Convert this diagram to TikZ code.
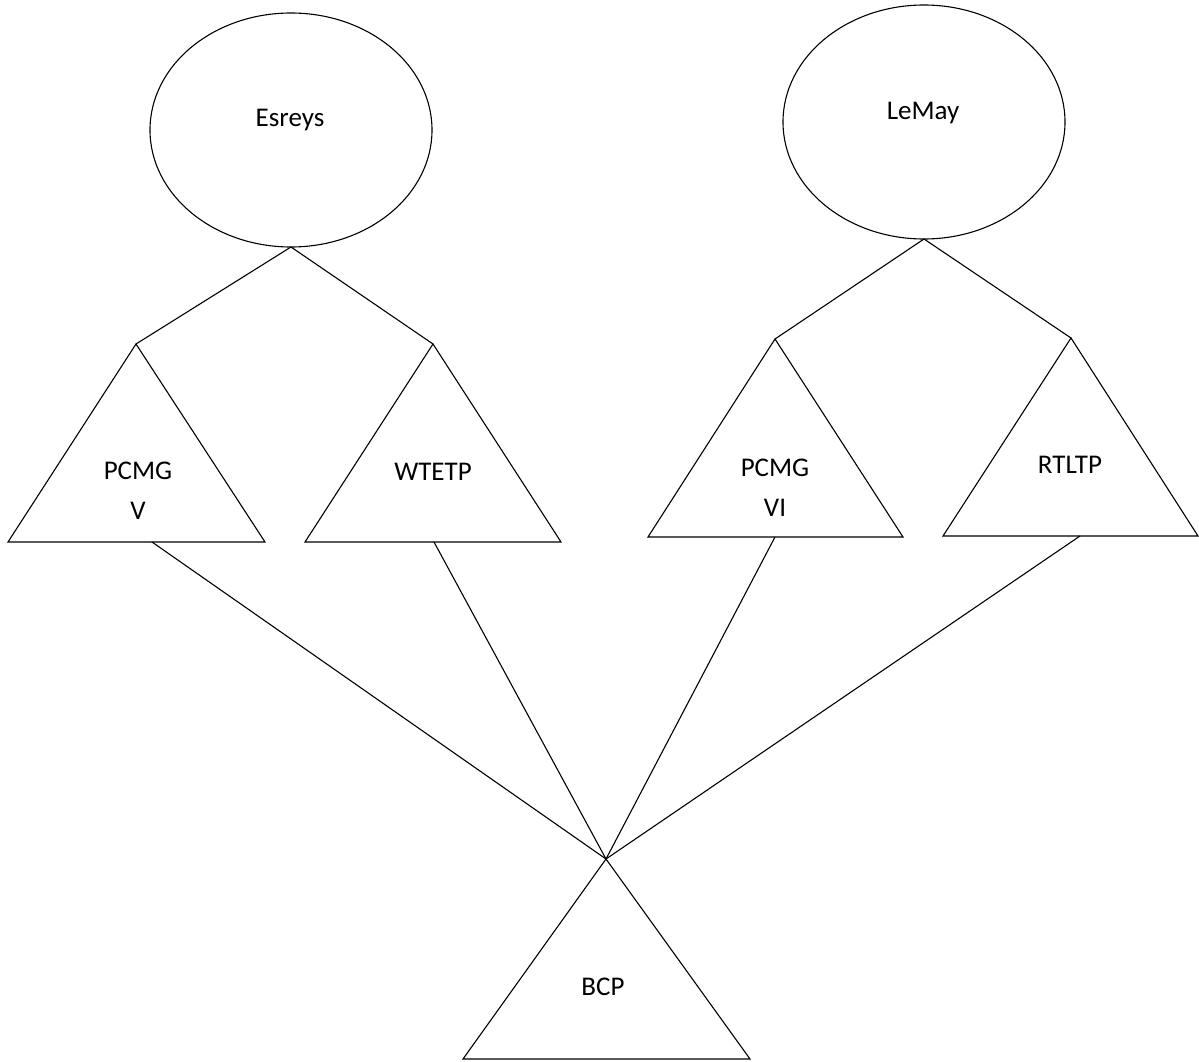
\documentclass[tikz,border=0pt]{standalone}
\usepackage{fontspec}
\setmainfont{Carlito}
\usetikzlibrary{shapes.geometric, calc}

\begin{document}
\begin{tikzpicture}[x=1pt,y=-1pt,line width=1.1pt,
    group/.style={draw,ellipse,minimum width=282pt,minimum height=234pt,
      inner sep=0pt,outer sep=0pt},
    lbl/.style={font=\fontsize{27}{40}\selectfont,align=center,inner sep=0pt}]
    \useasboundingbox (0,0) rectangle (1199,1062);

    % the two groups
    \node[group] (esreys) at (291,130) {};
    \node[lbl]   (esreys-t) at (290,120) {Esreys};
    \node[group] (lemay) at (924,122) {};
    \node[lbl]   (lemay-t) at (923,113) {LeMay};

    % apexes of the triangles
    \coordinate (pcmg5) at (136,344);
    \coordinate (wtetp) at (433,344);
    \coordinate (pcmg6) at (775,339);
    \coordinate (rtltp) at (1071,338);
    \coordinate (bcp)   at (606,859);

    % triangles
    \draw (pcmg5) -- ++(-128,198) -- ++(257,0) -- cycle;
    \draw (wtetp) -- ++(-128,198) -- ++(256,0) -- cycle;
    \draw (pcmg6) -- ++(-127,198) -- ++(255,0) -- cycle;
    \draw (rtltp) -- ++(-128,198) -- ++(255,0) -- cycle;
    \draw (bcp)   -- ++(-143,200) -- ++(287,0) -- cycle;

    \node[lbl] (pcmg5-t) at (138,491) {PCMG\\V};
    \node[lbl] (wtetp-t) at (433,472) {WTETP};
    \node[lbl] (pcmg6-t) at (775,488) {PCMG\\VI};
    \node[lbl] (rtltp-t) at (1070,465) {RTLTP};
    \node[lbl] (bcp-t)   at (603,987) {BCP};

    % points on the bases
    \coordinate (pcmg5b) at (152,542);
    \coordinate (wtetpb) at (434,542);
    \coordinate (pcmg6b) at (775,537);
    \coordinate (rtltpb) at (1080,536);

    % connectors
    \draw (esreys.south) -- (pcmg5);
    \draw (esreys.south) -- (wtetp);
    \draw (lemay.south) -- (pcmg6);
    \draw (lemay.south) -- (rtltp);
    \draw (pcmg5b) -- (bcp);
    \draw (wtetpb) -- (bcp);
    \draw (pcmg6b) -- (bcp);
    \draw (rtltpb) -- (bcp);
\end{tikzpicture}
\end{document}
